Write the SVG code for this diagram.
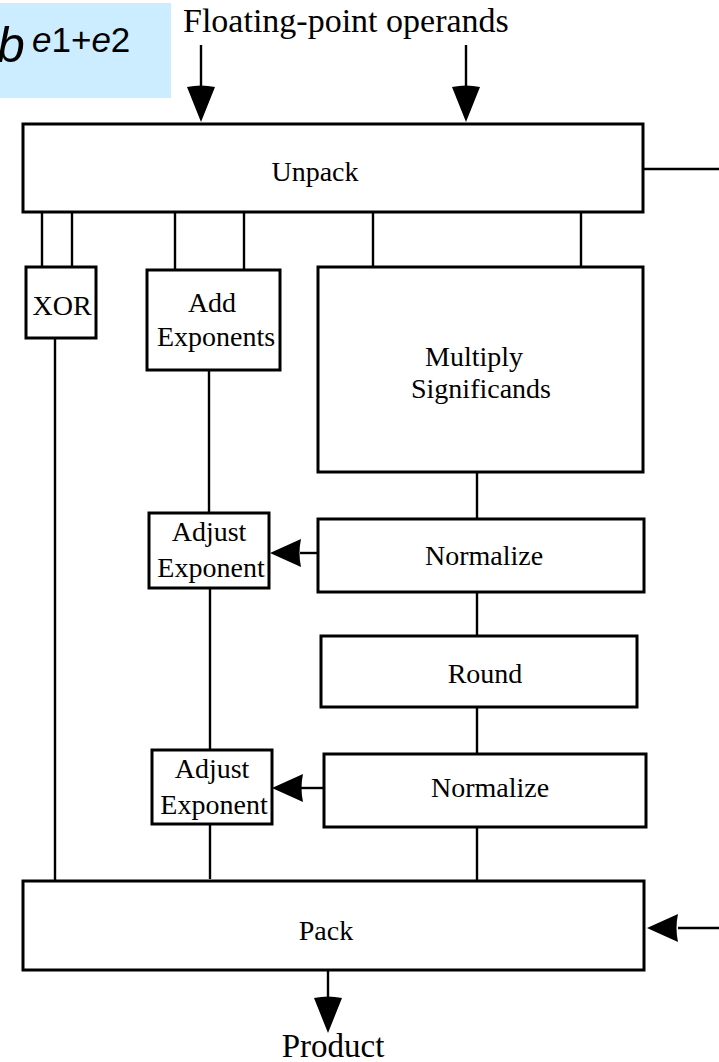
<svg xmlns="http://www.w3.org/2000/svg" width="719" height="1062" viewBox="0 0 719 1062">
<style>
.box{fill:#fff;stroke:#000;stroke-width:3}
.ln{stroke:#000;stroke-width:2.4;fill:none}
.ah{fill:#000;stroke:none}
text{font-family:"Liberation Serif","Times New Roman",serif;font-size:28px;fill:#000}
.c{text-anchor:middle}
.sans{font-family:"Liberation Sans",Arial,sans-serif}
</style>
<defs>
<path id="arrDown" d="M-14 0 Q0 -3 14 0 L0 35 Z"/>
<path id="arrLeft" d="M0 0 L31 -14 Q28 0 31 14 Z"/>
</defs>
<g id="formula">
<rect x="-2" y="3" width="173" height="95" fill="#ccecff"/>
<text x="-3" y="62" class="sans" style="font-size:50px;font-style:italic">b</text>
<text x="32" y="52" class="sans" style="font-size:35px"><tspan font-style="italic">e</tspan>1+<tspan font-style="italic">e</tspan>2</text>
</g>
<g id="label-operands"><text x="183" y="32" style="font-size:34px">Floating-point operands</text></g>
<g id="unpack"><rect class="box" x="23" y="124" width="620" height="88"/><text class="c" x="315" y="181">Unpack</text></g>
<g id="xor"><rect class="box" x="26" y="267" width="70" height="71"/><text class="c" x="62" y="315">XOR</text></g>
<g id="add-exponents"><rect class="box" x="147" y="270" width="133" height="100"/><text class="c" x="212" y="312">Add</text><text class="c" x="216" y="346">Exponents</text></g>
<g id="multiply"><rect class="box" x="318" y="267" width="325" height="205"/><text class="c" x="474" y="366">Multiply</text><text class="c" x="481" y="398">Significands</text></g>
<g id="adjust1"><rect class="box" x="149" y="513" width="120" height="75"/><text class="c" x="209" y="541">Adjust</text><text class="c" x="211" y="577">Exponent</text></g>
<g id="normalize1"><rect class="box" x="318" y="519" width="326" height="73"/><text class="c" x="484" y="565">Normalize</text></g>
<g id="round"><rect class="box" x="321" y="636" width="316" height="71"/><text class="c" x="485" y="683">Round</text></g>
<g id="adjust2"><rect class="box" x="152" y="750" width="120" height="74"/><text class="c" x="212" y="778">Adjust</text><text class="c" x="214" y="814">Exponent</text></g>
<g id="normalize2"><rect class="box" x="324" y="754" width="322" height="73"/><text class="c" x="490" y="797">Normalize</text></g>
<g id="pack"><rect class="box" x="23" y="881" width="621" height="89"/><text class="c" x="326" y="940">Pack</text></g>
<g id="label-product"><text class="c" x="333" y="1057" style="font-size:33px">Product</text></g>
<g id="connectors">
<line class="ln" x1="201" y1="45" x2="201" y2="88"/><use href="#arrDown" class="ah" x="201" y="87"/>
<line class="ln" x1="466" y1="45" x2="466" y2="88"/><use href="#arrDown" class="ah" x="466" y="87"/>
<line class="ln" x1="643" y1="169" x2="719" y2="169"/>
<line class="ln" x1="42" y1="212" x2="42" y2="267"/>
<line class="ln" x1="72" y1="212" x2="72" y2="267"/>
<line class="ln" x1="175" y1="212" x2="175" y2="270"/>
<line class="ln" x1="244" y1="212" x2="244" y2="270"/>
<line class="ln" x1="373" y1="212" x2="373" y2="267"/>
<line class="ln" x1="581" y1="212" x2="581" y2="267"/>
<line class="ln" x1="55" y1="338" x2="55" y2="881"/>
<line class="ln" x1="209" y1="370" x2="209" y2="513"/>
<line class="ln" x1="210" y1="588" x2="210" y2="750"/>
<line class="ln" x1="210" y1="824" x2="210" y2="879"/>
<line class="ln" x1="477" y1="472" x2="477" y2="519"/>
<line class="ln" x1="477" y1="592" x2="477" y2="636"/>
<line class="ln" x1="477" y1="707" x2="477" y2="754"/>
<line class="ln" x1="477" y1="827" x2="477" y2="881"/>
<line class="ln" x1="300" y1="553" x2="318" y2="553"/><use href="#arrLeft" class="ah" x="270" y="553"/>
<line class="ln" x1="300" y1="788" x2="324" y2="788"/><use href="#arrLeft" class="ah" x="272" y="788"/>
<line class="ln" x1="678" y1="928" x2="719" y2="928"/><use href="#arrLeft" class="ah" x="647" y="928"/>
<line class="ln" x1="328" y1="970" x2="328" y2="999"/><use href="#arrDown" class="ah" x="328" y="998"/>
</g>
</svg>
